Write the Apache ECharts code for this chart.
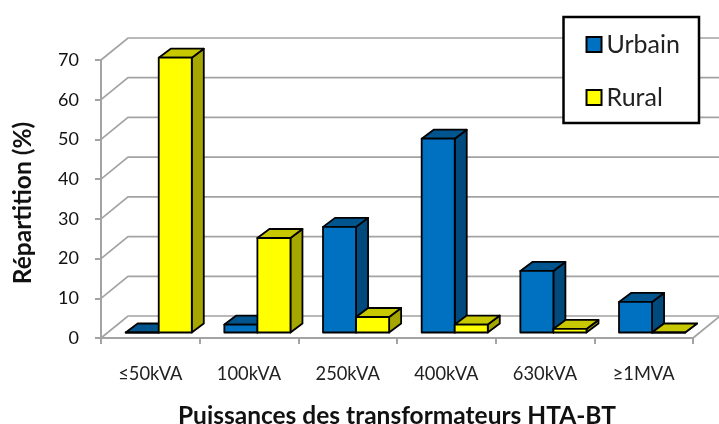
<!DOCTYPE html>
<html><head><meta charset="utf-8">
<style>html,body{margin:0;padding:0;background:#fff}#c{width:719px;height:424px}</style>
<script src="https://cdn.jsdelivr.net/npm/echarts@6/dist/echarts.min.js"></script>
</head><body><div id="c"></div>
<script>
const categories = ['≤50kVA','100kVA','250kVA','400kVA','630kVA','≥1MVA'];
const urbain = [0, 2, 26.6, 48.8, 15.5, 7.7];
const rural = [69.2, 23.8, 3.9, 2, 0.9, 0];
const yTicks = [0,10,20,30,40,50,60,70];

const FONT = 'Lato, "Open Sans", sans-serif';
const GRID_COLOR = '#a3a3a3';
const WALL = {x:27, y:22};
const BAR = {x:12, y:9, inX:8.4, inY:5.5, ratio:0.335};
const pal = {
  Urbain:{front:'#0070c0', top:'#00558f', side:'#004a7d'},
  Rural:{front:'#ffff00', top:'#c8c800', side:'#a6a600'}
};
function wall(params, api){
  const cs = params.coordSys;
  const y = api.coord([0, api.value(1)])[1];
  const L = cs.x, R = cs.x + cs.width;
  const children = [{type:'polyline', shape:{points:[[L,y],[L+WALL.x,y-WALL.y],[R+WALL.x,y-WALL.y]]},
    style:{fill:'none',stroke:GRID_COLOR,lineWidth:1.7}}];
  if (api.value(1) === 0) children.push({type:'line', shape:{x1:R,y1:y,x2:R+WALL.x,y2:y-WALL.y},
    style:{stroke:GRID_COLOR,lineWidth:1.7}});
  return {type:'group', children};
}
function bar(name, sign){
  return function(params, api){
    const c = api.coord([api.value(0), api.value(1)]);
    const base = api.coord([api.value(0), 0])[1] - BAR.inY;
    const w = api.size([1,0])[0] * BAR.ratio;
    const top = c[1] - BAR.inY;
    const x0 = c[0] + BAR.inX + (sign < 0 ? -w : 0), x1 = x0 + w;
    const p = pal[name];
    const st = {stroke:'#000',lineWidth:1.8,lineJoin:'round'};
    return {type:'group', children:[
      {type:'polygon', shape:{points:[[x1,top],[x1+BAR.x,top-BAR.y],[x1+BAR.x,base-BAR.y],[x1,base]]}, style:{fill:p.side,...st}},
      {type:'polygon', shape:{points:[[x0,top],[x0+BAR.x,top-BAR.y],[x1+BAR.x,top-BAR.y],[x1,top]]}, style:{fill:p.top,...st}},
      {type:'rect', shape:{x:x0,y:top,width:w,height:base-top}, style:{fill:p.front,...st}}
    ]};
  };
}
const chart = echarts.init(document.getElementById('c'), null, {renderer:'canvas'});
chart.setOption({
  animation:false,
  backgroundColor:'#fff',
  textStyle:{fontFamily:FONT},
  grid:{left:101, right:26, top:60, bottom:86, containLabel:false, outerBoundsMode:'none'},
  legend:{
    right:20, top:17, orient:'vertical', data:['Urbain','Rural'], icon:'rect',
    backgroundColor:'#fff', borderColor:'#000', borderWidth:2.5, borderRadius:0,
    padding:[15,19,13,22], itemWidth:15, itemHeight:15, itemGap:28,
    selectedMode:false,
    textStyle:{fontFamily:FONT,fontSize:25,color:'#222',lineHeight:24}
  },
  xAxis:{type:'category', data:categories, boundaryGap:true,
    axisLine:{lineStyle:{color:GRID_COLOR,width:2}},
    axisTick:{show:true,alignWithLabel:false,length:6,lineStyle:{color:GRID_COLOR,width:2}},
    axisLabel:{color:'#222',fontFamily:FONT,fontSize:18.3,margin:27,interval:0},
    name:'Puissances des transformateurs HTA-BT', nameLocation:'middle', nameGap:66,
    nameTextStyle:{fontFamily:FONT,fontWeight:'bold',fontSize:24.5,color:'#111'}},
  yAxis:{type:'value', min:0, max:70, interval:10,
    axisLine:{show:true,lineStyle:{color:GRID_COLOR,width:2}},
    axisTick:{show:true,length:6,lineStyle:{color:GRID_COLOR,width:2}},
    splitLine:{show:false},
    axisLabel:{color:'#111',fontFamily:FONT,fontSize:18,margin:22,padding:[2,0,0,0]},
    name:'Répartition (%)', nameLocation:'middle', nameGap:65,
    nameTextStyle:{fontFamily:FONT,fontWeight:'bold',fontSize:24.5,color:'#111',padding:[0,8,0,0]}},
  series:[
    {type:'custom', name:'wall', silent:true, z:1, coordinateSystem:'cartesian2d',
      renderItem:wall, data:yTicks.map(v=>[0,v]), encode:{x:0,y:1}},
    {type:'custom', name:'Urbain', z:2, renderItem:bar('Urbain',-1),
      itemStyle:{color:pal.Urbain.front,borderColor:'#000',borderWidth:2},
      data:urbain.map((v,i)=>[i,v]), encode:{x:0,y:1}},
    {type:'custom', name:'Rural', z:3, renderItem:bar('Rural',1),
      itemStyle:{color:pal.Rural.front,borderColor:'#000',borderWidth:2},
      data:rural.map((v,i)=>[i,v]), encode:{x:0,y:1}}
  ]
});
</script></body></html>
